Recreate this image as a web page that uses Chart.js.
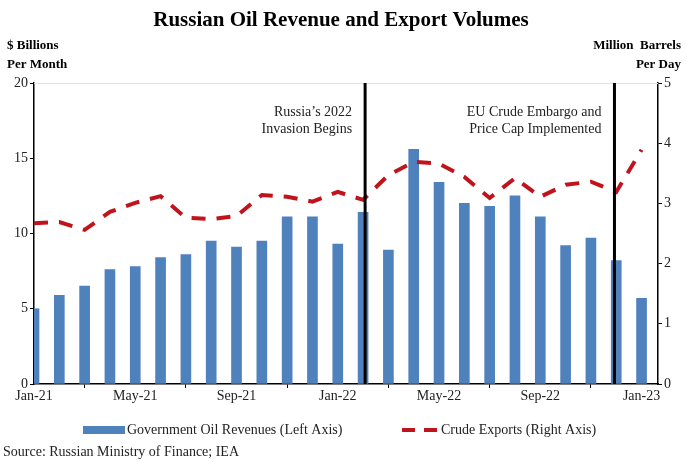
<!DOCTYPE html>
<html>
<head>
<meta charset="utf-8">
<script src="https://cdn.jsdelivr.net/npm/chart.js@4.4.0/dist/chart.umd.min.js"></script>
<style>
  html, body { margin: 0; padding: 0; background: #fff; }
  #wrap { width: 687px; height: 462px; position: relative; }
</style>
</head>
<body>
<div id="wrap"><canvas id="oilChart" width="687" height="462"></canvas></div>
<script>
// month labels, one per bar (Jan-21 .. Jan-23)
const months = ['Jan-21','Feb-21','Mar-21','Apr-21','May-21','Jun-21','Jul-21','Aug-21','Sep-21','Oct-21','Nov-21','Dec-21',
  'Jan-22','Feb-22','Mar-22','Apr-22','May-22','Jun-22','Jul-22','Aug-22','Sep-22','Oct-22','Nov-22','Dec-22','Jan-23'];

// government oil revenues, $ billions per month (left axis)
const revenues = [5.0, 5.9, 6.5, 7.6, 7.8, 8.4, 8.6, 9.5, 9.1, 9.5, 11.1, 11.1,
  9.3, 11.4, 8.9, 15.6, 13.4, 12.0, 11.8, 12.5, 11.1, 9.2, 9.7, 8.2, 5.7];

// crude exports, million barrels per day (right axis)
const exportsMbd = [2.67, 2.69, 2.56, 2.86, 3.01, 3.12, 2.76, 2.74, 2.79, 3.14, 3.11, 3.03,
  3.19, 3.06, 3.47, 3.69, 3.66, 3.44, 3.09, 3.42, 3.11, 3.31, 3.36, 3.19, 3.89];

// tick labels shown on the x axis (every fourth month)
const xTickLabels = ['Jan-21','May-21','Sep-21','Jan-22','May-22','Sep-22','Jan-23'];

// event markers (position in month index) and their notes
const eventPos = [13.08, 22.93];
const eventNotes = [['Russia\u2019s 2022', 'Invasion Begins'], ['EU Crude Embargo and', 'Price Cap Implemented']];

const SERIF = '"Liberation Serif", "Times New Roman", serif';
const BLUE = '#4f81bd';
const RED = '#c0141c';

// draws title, unit labels, event lines, legend and source
const decorPlugin = {
  id: 'decor',
  afterDraw(chart) {
    const ctx = chart.ctx;
    const area = chart.chartArea;
    const x = chart.scales.x;
    ctx.save();

    // faint top border of plot
    ctx.strokeStyle = '#e4e4e4';
    ctx.lineWidth = 1;
    ctx.beginPath();
    ctx.moveTo(area.left, area.top + 0.5);
    ctx.lineTo(area.right, area.top + 0.5);
    ctx.stroke();

    // event lines
    ctx.strokeStyle = '#000';
    ctx.lineWidth = 3;
    eventPos.forEach(p => {
      const px = x.getPixelForValue(p);
      ctx.beginPath();
      ctx.moveTo(px, area.top);
      ctx.lineTo(px, area.bottom);
      ctx.stroke();
    });

    // event notes
    ctx.fillStyle = '#222';
    ctx.font = '14px ' + SERIF;
    ctx.textAlign = 'right';
    ctx.textBaseline = 'middle';
    eventNotes.forEach((lines, i) => {
      const px = x.getPixelForValue(eventPos[i]) - 13;
      lines.forEach((t, j) => ctx.fillText(t, px, 112 + j * 17));
    });

    // title
    ctx.fillStyle = '#000';
    ctx.textAlign = 'center';
    ctx.font = 'bold 21px ' + SERIF;
    ctx.fillText('Russian Oil Revenue and Export Volumes', 341, 21);

    // unit labels
    ctx.font = 'bold 13px ' + SERIF;
    ctx.textAlign = 'left';
    ctx.fillText('$ Billions', 7, 46);
    ctx.fillText('Per Month', 7, 65);
    ctx.textAlign = 'right';
    ctx.fillText('Million  Barrels', 681, 46);
    ctx.fillText('Per Day', 681, 65);

    // legend
    ctx.fillStyle = BLUE;
    ctx.fillRect(83, 426, 42, 8);
    ctx.fillStyle = '#222';
    ctx.font = '14px ' + SERIF;
    ctx.textAlign = 'left';
    ctx.fillText('Government Oil Revenues (Left Axis)', 127, 430);
    ctx.strokeStyle = RED;
    ctx.lineWidth = 4;
    ctx.setLineDash([13, 9]);
    ctx.beginPath();
    ctx.moveTo(402, 430);
    ctx.lineTo(440, 430);
    ctx.stroke();
    ctx.setLineDash([]);
    ctx.fillText('Crude Exports (Right Axis)', 441, 430);

    // source
    ctx.font = '14px ' + SERIF;
    ctx.fillText('Source: Russian Ministry of Finance; IEA', 3, 452);
    ctx.restore();
  }
};

const axisFont = { family: SERIF, size: 14 };
const tickGrid = { display: true, drawOnChartArea: false, drawTicks: true, tickLength: 4, color: '#000', lineWidth: 1 };

new Chart(document.getElementById('oilChart'), {
  type: 'bar',
  data: {
    datasets: [
      {
        type: 'bar',
        label: 'Government Oil Revenues (Left Axis)',
        data: revenues.map((v, i) => ({ x: i, y: v })),
        backgroundColor: BLUE,
        barThickness: 10,
        yAxisID: 'y',
        order: 2
      },
      {
        type: 'line',
        label: 'Crude Exports (Right Axis)',
        data: exportsMbd.map((v, i) => ({ x: i, y: v })),
        borderColor: RED,
        borderWidth: 4,
        borderDash: [14, 11],
        pointRadius: 0,
        tension: 0,
        fill: false,
        yAxisID: 'y2',
        order: 1
      }
    ]
  },
  options: {
    responsive: false,
    animation: false,
    layout: { padding: { top: 83, bottom: 0, left: 0, right: 0 } },
    plugins: {
      legend: { display: false },
      title: { display: false },
      tooltip: { enabled: false }
    },
    scales: {
      x: {
        type: 'linear',
        min: 0,
        max: 24.65,
        offset: false,
        grid: tickGrid,
        border: { color: '#000', width: 1.5 },
        afterBuildTicks: axis => { axis.ticks = xTickLabels.map((l, i) => ({ value: i * 4 })); },
        afterFit: axis => { axis.height = 78; },
        ticks: {
          color: '#222',
          font: axisFont,
          maxRotation: 0,
          padding: 0,
          callback: (v) => months[v]
        }
      },
      y: {
        position: 'left',
        min: 0,
        max: 20,
        afterFit: axis => { axis.width = 34; },
        grid: tickGrid,
        border: { color: '#000', width: 1.5 },
        ticks: { stepSize: 5, color: '#222', font: axisFont, padding: 2 }
      },
      y2: {
        position: 'right',
        min: 0,
        max: 5,
        afterFit: axis => { axis.width = 29; },
        grid: tickGrid,
        border: { color: '#000', width: 1.5 },
        ticks: { stepSize: 1, color: '#222', font: axisFont, padding: 2 }
      }
    }
  },
  plugins: [decorPlugin]
});
</script>
</body>
</html>
